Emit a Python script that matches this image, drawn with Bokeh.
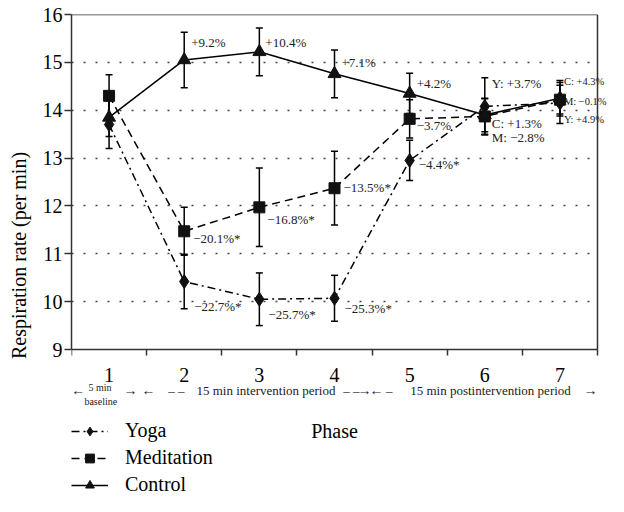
from bokeh.plotting import figure
from bokeh.models import (ColumnDataSource, FixedTicker, Whisker, TeeHead, LinearAxis,
                          Legend, LegendItem, Range1d)
from bokeh.embed import file_html
from bokeh.resources import INLINE
from bokeh.core.properties import value

# ---------------- data ----------------
phases = [1, 2, 3, 4, 5, 6, 7]

yoga = [13.70, 10.42, 10.05, 10.07, 12.95, 14.08, 14.15]
yoga_err = [0.50, 0.57, 0.55, 0.48, 0.42, 0.60, 0.43]
meditation = [14.30, 11.47, 11.97, 12.37, 13.82, 13.87, 14.22]
meditation_err = [0.44, 0.50, 0.82, 0.77, 0.40, 0.37, 0.30]
control = [13.85, 15.05, 15.22, 14.76, 14.35, 13.90, 14.25]
control_err = [0.40, 0.58, 0.50, 0.50, 0.42, 0.35, 0.37]

# percentage change labels
yoga_pct = ["", "−22.7%*", "−25.7%*", "−25.3%*", "−4.4%*", "Y: +3.7%", "Y: +4.9%"]
meditation_pct = ["", "−20.1%*", "−16.8%*", "−13.5%*", "−3.7%", "M: −2.8%", "M: −0.1%"]
control_pct = ["", "+9.2%", "+10.4%", "+7.1%", "+4.2%", "C: +1.3%", "C: +4.3%"]

y_ticks = [9, 10, 11, 12, 13, 14, 15, 16]
grid_ticks = [10, 11, 12, 13, 14, 15]

period_texts = ["←", "→", "←", "– –", "15 min intervention period", "– –", "→", "←", "–",
                "15 min postintervention period", "→"]
baseline_texts = ["5 min", "baseline"]

# ---------------- layout constants ----------------
FONT = "Liberation Serif"
W, H = 608, 496
LEFT, RIGHT, TOP, BOTTOM9 = 71, 597, 14, 349      # box of the 0.5..7.5 x 9..16 area
PPU = (BOTTOM9 - TOP) / 7.0                        # pixels per y unit
PPX = (RIGHT - LEFT) / 7.0                         # pixels per phase
Y_BOTTOM = 9 - (H - BOTTOM9) / PPU                 # frame extends down to the canvas bottom
X_RIGHT = 7.5 + (W - RIGHT) / PPX                  # ... and right to the canvas edge

yoga_dx = [0, 10, 9, 10, 9, 7, 4]
yoga_dy = [0, 25, 15, 10, 4, -23, 16]
med_dx = [0, 9, 8, 9, 7, 7, 4]
med_dy = [0, 7, 12, -1, 7, 21, 2]
ctl_dx = [0, 7, 6, 7, 7, 7, 4]
ctl_dy = [0, -17, -9, -11, -10, 8, -17]
pct_size = ["13px"] * 6 + ["10.5px"]

period_x = [0.59, 1.285, 1.525, 1.897, 3.088, 4.226, 4.40, 4.56, 4.73, 6.076, 7.407]
period_y = 16 - (390 - TOP) / PPU
baseline_x = [0.88, 0.89]
baseline_y = [16 - (387 - TOP) / PPU, 16 - (401 - TOP) / PPU]

p = figure(width=W, height=H, x_range=Range1d(0.5, X_RIGHT), y_range=Range1d(Y_BOTTOM, 16),
           output_backend="svg", toolbar_location=None,
           min_border_left=LEFT, min_border_right=0, min_border_top=TOP,
           min_border_bottom=0)
p.background_fill_color = "white"
p.border_fill_color = "white"
p.outline_line_color = None

# grid
p.xgrid.visible = False
yg = p.ygrid[0]
yg.ticker = FixedTicker(ticks=grid_ticks)
yg.grid_line_color = "#444444"
yg.grid_line_width = 1.5
yg.grid_line_dash = "2 10"
if "cross_bounds" in yg.properties():
    yg.cross_bounds = (0.5, 7.5)

# axes
xa = p.xaxis[0]
xa.fixed_location = 9
xa.bounds = (0.5, 7.5)
xa.ticker = FixedTicker(ticks=phases, minor_ticks=[0.5 + i for i in range(8)])
xa.major_tick_out = 0
xa.major_tick_in = 0
xa.minor_tick_out = 6
xa.minor_tick_in = 0
xa.major_label_standoff = 12
xa.axis_label = "Phase"
xa.axis_label_standoff = 35

ya = p.yaxis[0]
ya.bounds = (9, 16)
ya.ticker = FixedTicker(ticks=y_ticks, minor_ticks=[])
ya.major_tick_out = 7
ya.major_tick_in = 0
ya.major_label_standoff = 2

for ax in (xa, ya):
    ax.axis_line_color = "#333333"
    ax.axis_line_width = 1.5
    ax.major_tick_line_color = "#333333"
    ax.major_tick_line_width = 1.5
    ax.minor_tick_line_color = "#333333"
    ax.minor_tick_line_width = 1.5
    ax.major_label_text_font = FONT
    ax.major_label_text_font_size = "20px"
    ax.major_label_text_color = "black"
    ax.axis_label_text_font = FONT
    ax.axis_label_text_font_size = "20px"
    ax.axis_label_text_font_style = "normal"
    ax.axis_label_text_color = "black"

# y-axis title (its own label-only axis, centred as in the original)
ylab = LinearAxis(ticker=FixedTicker(ticks=[], minor_ticks=[]),
                  bounds=(16 - (304 - TOP) / PPU, 16),
                  axis_line_color=None, major_tick_line_color=None, minor_tick_line_color=None,
                  axis_label="Respiration rate (per min)", axis_label_standoff=10,
                  axis_label_text_font=FONT, axis_label_text_font_size="20px",
                  axis_label_text_font_style="normal", axis_label_text_color="black")
p.add_layout(ylab, "left")

# box lines: right border and top border
for loc, side, bnds in ((7.5, "right", (9, 16)), (16, "above", (0.5, 7.5))):
    p.add_layout(LinearAxis(ticker=FixedTicker(ticks=[], minor_ticks=[]), fixed_location=loc,
                            bounds=bnds, axis_line_color="#333333", axis_line_width=1.5,
                            major_tick_line_color=None, minor_tick_line_color=None), side)

# series
series = [
    ("Yoga", yoga, yoga_err, "8 4 2 4", "diamond", 14, yoga_pct, yoga_dx, yoga_dy),
    ("Meditation", meditation, meditation_err, "8 5", "square", 11, meditation_pct, med_dx, med_dy),
    ("Control", control, control_err, "solid", "triangle", 13, control_pct, ctl_dx, ctl_dy),
]

items = []
for name, vals, errs, dash, marker, size, pct, dx, dy in series:
    src = ColumnDataSource(dict(x=phases, y=vals,
                                upper=[v + e for v, e in zip(vals, errs)],
                                lower=[v - e for v, e in zip(vals, errs)],
                                pct=pct, dx=dx, dy=dy, fs=pct_size))
    rl = p.line("x", "y", source=src, line_color="black", line_width=1.5, line_dash=dash)
    w = Whisker(source=src, base="x", upper="upper", lower="lower", dimension="height",
                line_color="black", line_width=1.5,
                upper_head=TeeHead(size=7, line_color="black", line_width=1.5),
                lower_head=TeeHead(size=7, line_color="black", line_width=1.5))
    p.add_layout(w)
    rm = p.scatter("x", "y", source=src, marker=marker, size=size,
                   fill_color="#111111", line_color="#111111")
    p.text("x", "y", text="pct", source=src, x_offset="dx", y_offset="dy",
           text_font=value(FONT), text_font_size="fs", text_color="#222222",
           text_baseline="middle", text_align="left")
    items.append(LegendItem(label=name, renderers=[rl, rm]))

legend = Legend(items=items, location=(0, 0), orientation="vertical",
                glyph_width=37, glyph_height=22, label_height=22, spacing=4,
                padding=0, margin=0, label_standoff=17,
                border_line_alpha=0, background_fill_alpha=0,
                label_text_font=FONT, label_text_font_size="20px",
                label_text_color="black")
p.add_layout(legend)

# period annotations below the axis
arrow_flags = [t in ("←", "→") for t in period_texts]
psrc = ColumnDataSource(dict(x=[x for x, a in zip(period_x, arrow_flags) if a],
                             y=[period_y] * sum(arrow_flags),
                             t=[t for t, a in zip(period_texts, arrow_flags) if a]))
p.text("x", "y", text="t", source=psrc, text_font=value(FONT), text_font_size="14px",
       text_color="#222222", text_align="center", text_baseline="middle")
tsrc = ColumnDataSource(dict(x=[x for x, a in zip(period_x, arrow_flags) if not a],
                             y=[period_y] * (len(period_texts) - sum(arrow_flags)),
                             t=[t for t, a in zip(period_texts, arrow_flags) if not a]))
p.text("x", "y", text="t", source=tsrc, text_font=value(FONT), text_font_size="13px",
       text_color="#222222", text_align="center", text_baseline="middle")
bsrc = ColumnDataSource(dict(x=baseline_x, y=baseline_y, t=baseline_texts))
p.text("x", "y", text="t", source=bsrc, text_font=value(FONT), text_font_size="10px",
       text_color="#222222", text_align="center", text_baseline="middle")

open("out.html", "w").write(file_html(p, INLINE))
